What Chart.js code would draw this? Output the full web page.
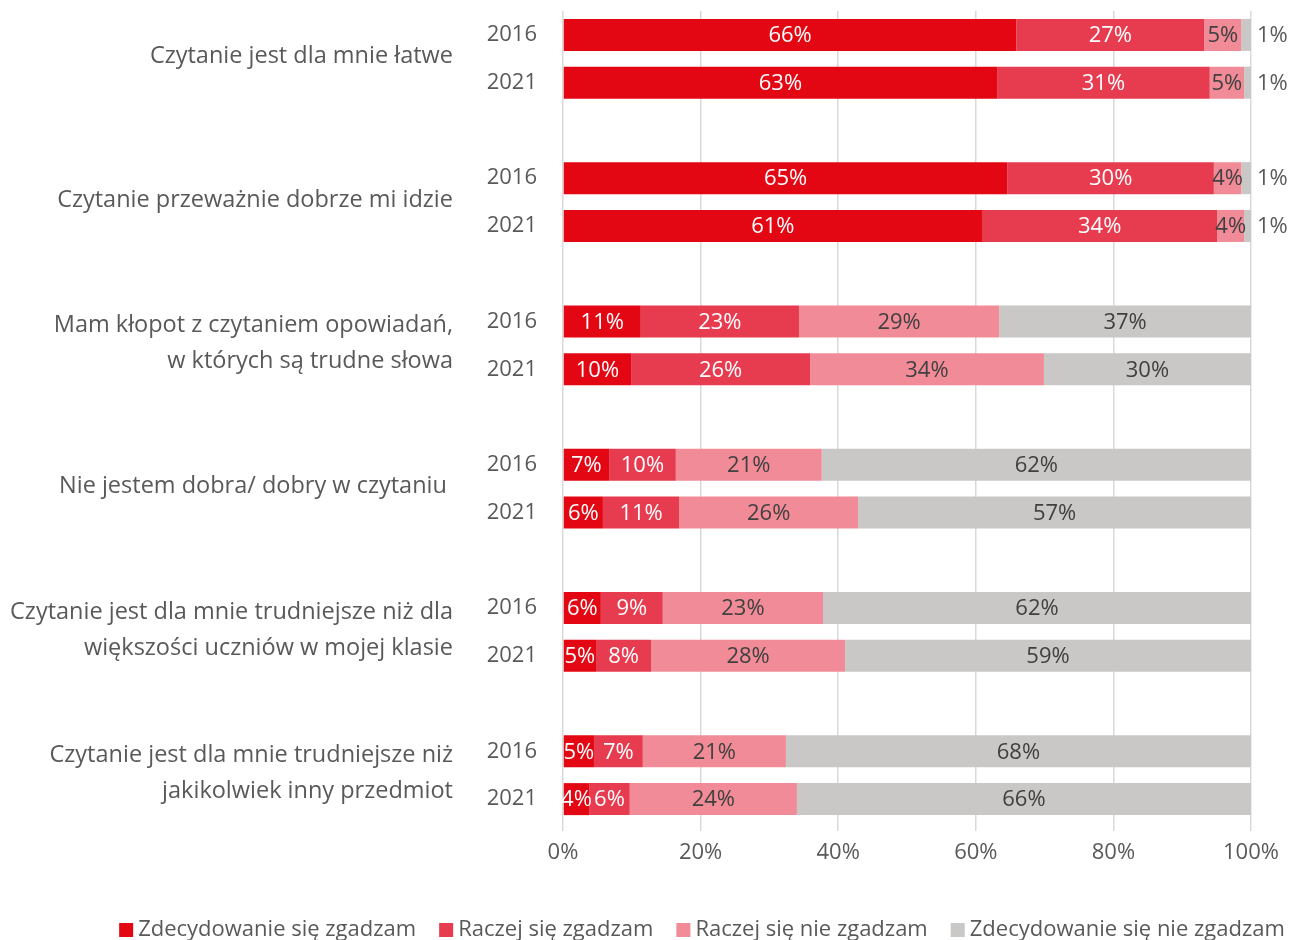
<!DOCTYPE html>
<html lang="pl">
<head>
<meta charset="utf-8">
<title>Czytanie 2016 / 2021</title>
<script src="https://cdn.jsdelivr.net/npm/chart.js@4/dist/chart.umd.min.js"></script>
<style>
  html, body { margin: 0; padding: 0; background: #fff; overflow: hidden; }
  #wrap { width: 1300px; height: 940px; }
</style>
</head>
<body>
<div id="wrap"><canvas id="chart" width="1300" height="940"></canvas></div>
<script>
// --- dane ---
const lata = ['2016', '2021'];
const pytania = [
    ['Czytanie jest dla mnie łatwe'],
    ['Czytanie przeważnie dobrze mi idzie'],
    ['Mam kłopot z czytaniem opowiadań,', 'w których są trudne słowa'],
    ['Nie jestem dobra/ dobry w czytaniu '],
    ['Czytanie jest dla mnie trudniejsze niż dla', 'większości uczniów w mojej klasie'],
    ['Czytanie jest dla mnie trudniejsze niż', 'jakikolwiek inny przedmiot']
];
const serie = ['Zdecydowanie się zgadzam', 'Raczej się zgadzam', 'Raczej się nie zgadzam', 'Zdecydowanie się nie zgadzam'];

// kolejność: pytanie 1 (2016, 2021), pytanie 2 (2016, 2021), ...
const zdecydowanieTak = [65.9, 63.1, 64.6, 60.9, 11.3, 9.9, 6.7, 5.8, 5.5, 4.8, 4.5, 3.8];
const raczejTak       = [27.3, 30.9, 30.0, 34.2, 23.0, 26.0, 9.7, 11.1, 9.0, 8.0, 7.1, 5.9];
const raczejNie       = [5.4, 5.0, 4.0, 3.9, 29.1, 34.0, 21.2, 26.0, 23.3, 28.2, 20.8, 24.3];
const zdecydowanieNie = [1.4, 1.0, 1.4, 1.0, 36.6, 30.1, 62.4, 57.1, 62.2, 59.0, 67.6, 66.0];

const xTicks = [0, 20, 40, 60, 80, 100];

const kolory = ['#E30613', '#E73B4F', '#F18B97', '#C9C8C6'];
const kolorTekstu = '#595959';
const font = '"Open Sans", "Noto Sans", sans-serif';

// kategorie: 2016, 2021, przerwa, ...
const kategorie = [];
pytania.forEach((p, i) => {
    lata.forEach(r => kategorie.push(r));
    if (i < pytania.length - 1) kategorie.push('');
});

function rozloz(arr) {
    const out = [];
    for (let i = 0; i < pytania.length; i++) {
        out.push(arr[2 * i], arr[2 * i + 1]);
        if (i < pytania.length - 1) out.push(null);
    }
    return out;
}

const daneSerii = [zdecydowanieTak, raczejTak, raczejNie, zdecydowanieNie];

// etykiety pytań po lewej stronie
const etykietyPytan = {
    id: 'etykietyPytan',
    afterDraw(chart) {
        const ctx = chart.ctx;
        const y = chart.scales.y;
        ctx.save();
        ctx.font = '23.5px ' + font;
        ctx.fillStyle = kolorTekstu;
        ctx.textAlign = 'right';
        ctx.textBaseline = 'middle';
        pytania.forEach((linie, i) => {
            const y1 = y.getPixelForValue(3 * i);
            const y2 = y.getPixelForValue(3 * i + 1);
            const srodek = (y1 + y2) / 2 - 2;
            const lh = 36;
            linie.forEach((t, j) => {
                ctx.fillText(t, 453, srodek + (j - (linie.length - 1) / 2) * lh);
            });
        });
        ctx.restore();
    }
};

// etykiety wartości na słupkach
const etykietyWartosci = {
    id: 'etykietyWartosci',
    afterDatasetsDraw(chart) {
        const ctx = chart.ctx;
        ctx.save();
        ctx.font = '22px ' + font;
        ctx.textBaseline = 'middle';
        chart.data.datasets.forEach((ds, di) => {
            const meta = chart.getDatasetMeta(di);
            meta.data.forEach((el, idx) => {
                const v = ds.data[idx];
                if (v === null || v === undefined) return;
                const txt = Math.round(v) + '%';
                if (di === 3 && v < 3) {
                    ctx.fillStyle = kolorTekstu;
                    ctx.textAlign = 'left';
                    ctx.fillText(txt, el.x + 6, el.y + 1);
                } else {
                    ctx.fillStyle = di < 2 ? '#ffffff' : '#404040';
                    ctx.textAlign = 'center';
                    ctx.fillText(txt, (el.x + el.base) / 2, el.y + 1);
                }
            });
        });
        ctx.restore();
    }
};

// legenda rysowana pod osią
const legenda = {
    id: 'legenda',
    afterDraw(chart) {
        const ctx = chart.ctx;
        ctx.save();
        ctx.font = '22px ' + font;
        ctx.textBaseline = 'middle';
        ctx.textAlign = 'left';
        const box = 14, gapTekst = 5, gapPoz = 23;
        const szer = chart.data.datasets.map(ds => box + gapTekst + ctx.measureText(ds.label).width);
        const calosc = szer.reduce((a, b) => a + b, 0) + gapPoz * (szer.length - 1);
        let x = 702 - calosc / 2;
        const yL = 930;
        chart.data.datasets.forEach((ds, i) => {
            ctx.fillStyle = ds.backgroundColor;
            ctx.fillRect(x, yL - box / 2, box, box);
            ctx.fillStyle = kolorTekstu;
            ctx.fillText(ds.label, x + box + gapTekst, yL);
            x += szer[i] + gapPoz;
        });
        ctx.restore();
    }
};

const ctx = document.getElementById('chart').getContext('2d');
new Chart(ctx, {
    type: 'bar',
    data: {
        labels: kategorie,
        datasets: serie.map((nazwa, i) => ({
            label: nazwa,
            data: rozloz(daneSerii[i]),
            backgroundColor: kolory[i],
            borderWidth: 0,
            barPercentage: 0.67,
            categoryPercentage: 1
        }))
    },
    options: {
        indexAxis: 'y',
        responsive: false,
        animation: false,
        layout: { padding: { top: 11, left: 0, right: 49, bottom: 67 } },
        scales: {
            x: {
                stacked: true,
                min: 0,
                max: 100,
                afterBuildTicks(s) { s.ticks = xTicks.map(v => ({ value: v })); },
                afterFit(s) { s.height = 50; s.paddingLeft = 0; s.paddingRight = 0; },
                grid: { color: '#D9D9D9', lineWidth: 1.5, tickLength: 8 },
                border: { display: false },
                ticks: {
                    color: kolorTekstu,
                    font: { family: font, size: 22 },
                    padding: 9,
                    callback: v => v + '%'
                }
            },
            y: {
                stacked: true,
                afterFit(s) { s.width = 563; s.paddingTop = 0; s.paddingBottom = 0; },
                grid: { display: false, drawTicks: false },
                border: { display: false },
                ticks: {
                    color: kolorTekstu,
                    font: { family: font, size: 22 },
                    padding: 26,
                    autoSkip: false
                }
            }
        },
        plugins: {
            legend: { display: false },
            tooltip: { enabled: false }
        }
    },
    plugins: [etykietyPytan, etykietyWartosci, legenda]
});
</script>
</body>
</html>
